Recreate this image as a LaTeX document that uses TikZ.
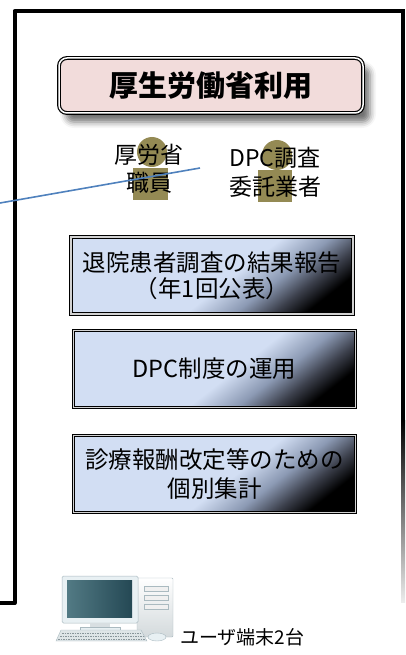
\documentclass[tikz,border=0pt]{standalone}
\usepackage{fontspec}
\newfontfamily\jp{Noto Sans CJK JP}
\usetikzlibrary{shadows.blur}

\definecolor{titlefill}{RGB}{242,220,219}
\definecolor{boxlight}{RGB}{210,222,243}
\definecolor{boxmid}{RGB}{140,154,180}
\definecolor{boxdark}{RGB}{60,64,76}
\definecolor{figure}{RGB}{148,138,84}
\definecolor{linkblue}{RGB}{79,129,189}
\definecolor{pcbody}{RGB}{232,240,243}
\definecolor{pcedge}{RGB}{170,186,192}
\definecolor{screendark}{RGB}{36,72,84}
\definecolor{screenlight}{RGB}{82,122,132}

% light blue panel that darkens towards its lower right corner
\pgfdeclarehorizontalshading{panelshade}{100bp}{color(0bp)=(boxlight); color(54bp)=(boxlight); color(63bp)=(boxmid); color(70bp)=(boxdark); color(76bp)=(black); color(100bp)=(black)}

\tikzset{
  panel/.style={shade, shading=panelshade, shading angle=-52,
    draw=black, line width=1pt, double=gray!35, double distance=1.1pt,
    minimum width=282pt, minimum height=77pt, inner sep=0pt,
    align=center, font=\jp\fontsize{23.5}{26}\selectfont},
  titlebox/.style={fill=titlefill, draw=black, rounded corners=8pt,
    line width=1.2pt, double=white, double distance=1.5pt,
    minimum width=304pt, minimum height=55pt, inner sep=0pt,
    font=\jp\bfseries\fontsize{29}{32}\selectfont,
    blur shadow={shadow xshift=7pt, shadow yshift=-9pt, shadow blur radius=6pt, shadow opacity=55}},
  person/.style={align=center, font=\jp\fontsize{23}{28.5}\selectfont, inner sep=0pt},
  frameline/.style={line width=4pt, line join=round},
}

\begin{document}
\begin{tikzpicture}[x=1pt,y=-1pt]
\useasboundingbox (0,0) rectangle (405,655);

% outer frame
\draw[frameline] (0,603) -- (14.5,603) -- (14.5,11) -- (403,11);
\fill[black] (401,9) rectangle (405,420);
\shade[top color=black, bottom color=gray!15] (401,420) rectangle (405,602);

% heading
\node[titlebox] (title) at (211,85.5) {厚生労働省利用};

% user figures behind the labels
\fill[figure] (152,152) circle (15pt);
\fill[figure] (133,168) rectangle (168,200);
\fill[figure] (277,155) circle (15pt);
\fill[figure] (258,170) rectangle (292,202);

\node[person] (staff) at (149,169) {厚労省\\職員};
\node[person] (contractor) at (275,172.5) {DPC調査\\委託業者};

% uses
\node[panel] (report) at (212,275.5) {退院患者調査の結果報告\\（年1回公表）};
\node[panel] (system) at (214.5,369) {DPC制度の運用};
\node[panel] (tally) at (214.5,474) [font=\jp\fontsize{23.5}{28.5}\selectfont] {診療報酬改定等のための\\個別集計};

% desktop computer
\shade[top color=white, bottom color=pcbody!80!gray, draw=pcedge, line width=0.4pt, rounded corners=1pt]
  (137,578) rectangle (173,637);
\foreach \yy in {586,595,604}
  \filldraw[fill=gray!12, draw=pcedge, line width=0.3pt] (144,\yy) rectangle (168,\yy+5);
\filldraw[fill=pcbody, draw=pcedge, line width=0.5pt, rounded corners=1.5pt] (62,576) rectangle (138,623);
\shade[shading angle=-30, left color=screenlight, right color=screendark] (67,580) rectangle (132,617);
\fill[pcbody!85!gray] (90,623) rectangle (110,628);
\filldraw[fill=pcbody, draw=pcedge, line width=0.4pt] (80,627) rectangle (120,632);
\filldraw[fill=pcbody!90!gray, draw=pcedge, line width=0.4pt] (61,630) -- (141,630) -- (147,641) -- (56,641) -- cycle;
\foreach \yy/\xa/\xb in {633/62/141, 636/60/143, 639/58/145}
  \draw[pcedge!80!black, line width=1pt, dash pattern=on 1.6pt off 0.9pt] (\xa,\yy) -- (\xb,\yy);
\filldraw[fill=pcbody, draw=pcedge, line width=0.4pt] (157,637) ellipse (9pt and 4pt);

\node[font=\jp\fontsize{19}{22}\selectfont, anchor=west, inner sep=0pt] (terminals) at (180,637) {ユーザ端末2台};

% connection line
\coordinate (wireEnd) at (0,203);
\coordinate (wireStart) at (200,168);
\draw[linkblue, line width=1.6pt] (wireEnd) -- (wireStart);
\end{tikzpicture}
\end{document}
